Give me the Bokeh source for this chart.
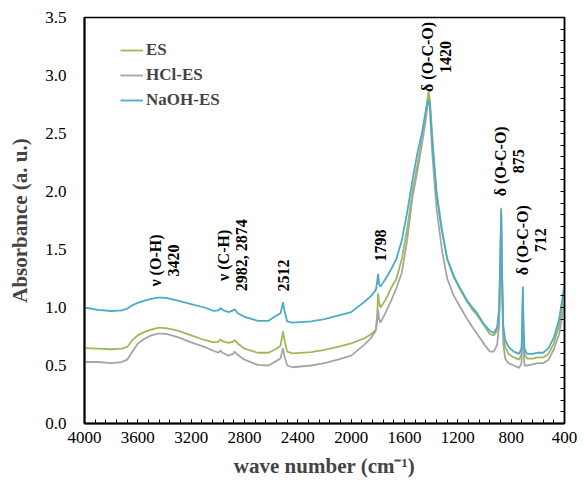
import numpy as np
from bokeh.plotting import figure
from bokeh.models import (Range1d, FixedTicker, LinearAxis, Legend, LegendItem,
                          ColumnDataSource, NumeralTickFormatter)
from bokeh.core.properties import value
from bokeh.embed import file_html
from bokeh.resources import INLINE

# ---------------- data ----------------
wavenumber = [4000, 3900, 3800, 3720, 3680, 3640, 3600, 3550, 3500, 3450, 3420, 3380, 3300, 3200,
              3100, 3030, 2995, 2982, 2965, 2920, 2885, 2874, 2850, 2800, 2700, 2620, 2560, 2530,
              2518, 2512, 2500, 2480, 2440, 2300, 2200, 2100, 2000, 1900, 1850, 1815, 1805, 1798,
              1790, 1780, 1740, 1700, 1660, 1620, 1580, 1540, 1500, 1470, 1440, 1425, 1420, 1410,
              1390, 1360, 1320, 1280, 1230, 1180, 1130, 1090, 1060, 1000, 960, 930, 905, 890,
              880, 875, 870, 860, 845, 820, 780, 740, 722, 716, 712, 708, 700, 680, 640, 600,
              560, 520, 480, 440, 400]

es = [0.65, 0.645, 0.64, 0.645, 0.66, 0.72, 0.76, 0.79, 0.81, 0.825, 0.825, 0.82, 0.80, 0.76,
      0.72, 0.70, 0.705, 0.725, 0.71, 0.695, 0.705, 0.72, 0.69, 0.645, 0.61, 0.61, 0.645, 0.67,
      0.75, 0.795, 0.72, 0.62, 0.605, 0.615, 0.635, 0.66, 0.69, 0.735, 0.77, 0.81, 0.93, 1.12,
      1.04, 1.00, 1.07, 1.17, 1.25, 1.42, 1.68, 2.00, 2.25, 2.45, 2.68, 2.82, 2.86, 2.80,
      2.45, 2.00, 1.68, 1.42, 1.26, 1.15, 1.05, 0.98, 0.94, 0.84, 0.77, 0.76, 0.80, 0.95,
      1.50, 1.86, 1.40, 0.80, 0.66, 0.60, 0.57, 0.55, 0.60, 0.85, 1.15, 0.80, 0.60, 0.56, 0.56, 0.57,
      0.57, 0.60, 0.69, 0.85, 1.15]

hcl_es = [0.53, 0.53, 0.52, 0.53, 0.55, 0.62, 0.69, 0.73, 0.76, 0.775, 0.775, 0.77, 0.745, 0.70,
          0.66, 0.625, 0.61, 0.63, 0.61, 0.585, 0.60, 0.62, 0.59, 0.55, 0.505, 0.50, 0.54, 0.56,
          0.62, 0.65, 0.58, 0.50, 0.485, 0.50, 0.52, 0.55, 0.585, 0.68, 0.74, 0.80, 0.88, 0.98,
          0.90, 0.87, 0.96, 1.06, 1.17, 1.30, 1.58, 1.95, 2.20, 2.40, 2.62, 2.77, 2.80, 2.72,
          2.30, 1.86, 1.50, 1.25, 1.10, 1.00, 0.90, 0.83, 0.78, 0.68, 0.62, 0.62, 0.68, 0.85,
          1.40, 1.80, 1.30, 0.70, 0.56, 0.52, 0.50, 0.48, 0.52, 0.80, 1.10, 0.70, 0.50, 0.50, 0.51, 0.52,
          0.52, 0.55, 0.64, 0.77, 1.05]

naoh_es = [1.00, 0.98, 0.97, 0.975, 0.99, 1.02, 1.04, 1.06, 1.075, 1.085, 1.085, 1.08, 1.06, 1.03,
           1.00, 0.97, 0.975, 0.995, 0.98, 0.96, 0.975, 0.985, 0.95, 0.92, 0.885, 0.885, 0.93, 0.95,
           1.01, 1.045, 0.97, 0.88, 0.87, 0.88, 0.90, 0.93, 0.96, 1.05, 1.10, 1.15, 1.22, 1.29,
           1.20, 1.18, 1.25, 1.33, 1.42, 1.58, 1.82, 2.10, 2.35, 2.50, 2.70, 2.78, 2.79, 2.74,
           2.40, 1.98, 1.66, 1.42, 1.27, 1.16, 1.06, 1.00, 0.96, 0.85, 0.80, 0.78, 0.83, 1.00,
           1.50, 1.84, 1.40, 0.85, 0.72, 0.66, 0.62, 0.60, 0.65, 0.90, 1.18, 0.85, 0.64, 0.60, 0.60, 0.61,
           0.61, 0.65, 0.74, 0.90, 1.20]

series_names = ["ES", "HCl-ES", "NaOH-ES"]
series_colors = ["#9BBB59", "#A5A5A5", "#4BACC6"]

x_ticks = [4000, 3600, 3200, 2800, 2400, 2000, 1600, 1200, 800, 400]
x_minor = list(range(400, 4001, 80))
y_ticks = [0.0, 0.5, 1.0, 1.5, 2.0, 2.5, 3.0, 3.5]
y_minor = [round(v * 0.1, 1) for v in range(0, 36)]

ann_text = ["ν (O-H)\n3420", "ν (C-H)\n2982, 2874", "2512", "1798",
            "δ (O-C-O)\n1420", "δ (O-C-O)\n875", "δ (O-C-O)\n712"]
ann_x = [3400, 2890, 2504, 1780, 1360, 812, 647]
ann_y = [1.405, 1.45, 1.275, 1.535, 3.16, 2.26, 1.58]

FONT = "Liberation Serif"

# ---------------- figure ----------------
p = figure(width=584, height=488, x_range=Range1d(4000, 400), y_range=Range1d(0, 3.5),
           output_backend="svg", toolbar_location=None,
           min_border_left=84, min_border_right=20, min_border_top=17, min_border_bottom=65)
p.xgrid.visible = False
p.ygrid.visible = False
p.outline_line_color = "black"
p.outline_line_width = 1.5
p.background_fill_color = "white"
p.border_fill_color = "white"

renderers = []
for ys, name, col in zip([es, hcl_es, naoh_es], series_names, series_colors):
    r = p.line(wavenumber, ys, line_color=col, line_width=1.8)
    renderers.append(r)

# bottom axis
xa = p.xaxis[0]
xa.ticker = FixedTicker(ticks=x_ticks, minor_ticks=x_minor)
xa.axis_label = "wave number (cm⁻¹)"
xa.axis_label_text_font = FONT
xa.axis_label_text_font_style = "bold"
xa.axis_label_text_font_size = "21px"
xa.axis_label_standoff = 8
xa.major_label_text_font = FONT
xa.major_label_text_font_size = "17px"
xa.major_label_text_color = "black"
xa.major_label_standoff = 8
xa.major_tick_in = 4
xa.major_tick_out = 0
xa.minor_tick_in = 4
xa.minor_tick_out = 0
xa.axis_line_width = 2
xa.axis_line_color = "black"
xa.major_tick_line_color = "black"
xa.minor_tick_line_color = "black"

# left axis
ya = p.yaxis[0]
ya.ticker = FixedTicker(ticks=y_ticks)
ya.formatter = NumeralTickFormatter(format="0.0")
ya.axis_label = "Absorbance (a. u.)"
ya.axis_label_text_font = FONT
ya.axis_label_text_font_style = "bold"
ya.axis_label_text_font_size = "21px"
ya.axis_label_standoff = 10
ya.major_label_text_font = FONT
ya.major_label_text_font_size = "17px"
ya.major_label_text_color = "black"
ya.major_label_standoff = 12
ya.major_tick_line_color = None
ya.minor_tick_line_color = None
ya.axis_line_width = 2
ya.axis_line_color = "black"

# right axis with inward ticks, no labels
ra = LinearAxis(ticker=FixedTicker(ticks=y_minor))
ra.major_label_text_font_size = "1px"
ra.major_label_text_color = None
ra.major_label_standoff = 0
ra.major_tick_in = 4
ra.major_tick_out = 0
ra.minor_tick_line_color = None
ra.axis_line_color = "black"
ra.axis_line_width = 1.5
p.add_layout(ra, "right")

# annotations
src = ColumnDataSource(dict(x=ann_x, y=ann_y, t=ann_text))
p.text(x="x", y="y", text="t", source=src, angle=np.pi / 2,
       text_font=value(FONT), text_font_style="bold", text_font_size="16px",
       text_align="center", text_baseline="middle", text_color="black",
       text_line_height=1.1)

legend = Legend(items=[LegendItem(label=n, renderers=[r]) for n, r in zip(series_names, renderers)],
                location=(36, 312), margin=0, padding=0, spacing=3,
                label_height=22, glyph_height=22, glyph_width=23, label_standoff=3,
                label_text_font=FONT, label_text_font_style="bold", label_text_font_size="17px",
                border_line_color=None, background_fill_alpha=0)
p.add_layout(legend, "center")

open("out.html", "w").write(file_html(p, INLINE))
